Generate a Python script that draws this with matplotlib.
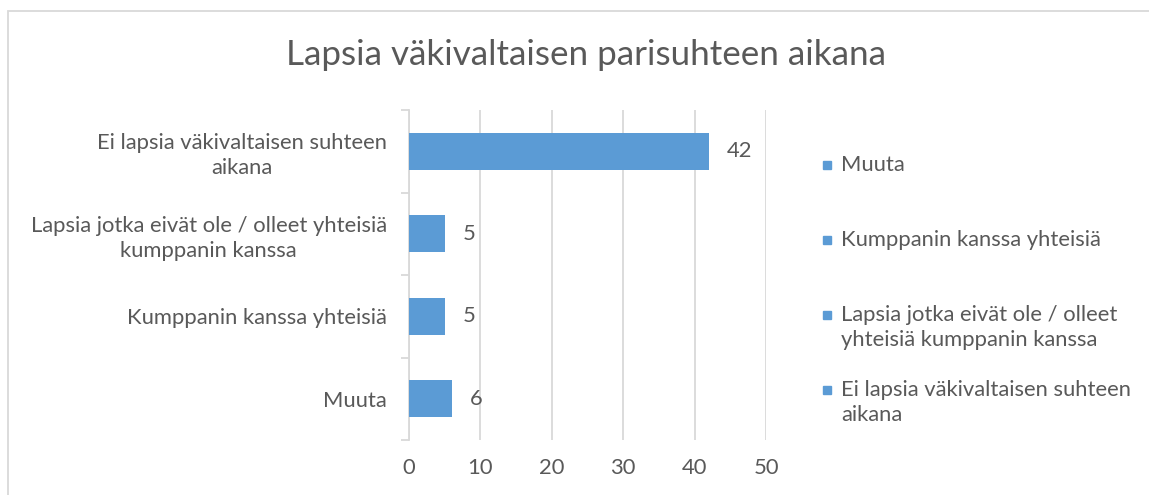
import matplotlib.pyplot as plt
from matplotlib.lines import Line2D
from matplotlib.patches import Rectangle

categories = ["Muuta",
              "Kumppanin kanssa yhteisiä",
              "Lapsia jotka eivät ole / olleet\nyhteisiä kumppanin kanssa",
              "Ei lapsia väkivaltaisen suhteen\naikana"]
values = [6, 5, 5, 42]
ytick_labels = ["Muuta",
                "Kumppanin kanssa yhteisiä",
                "Lapsia jotka eivät ole / olleet yhteisiä\nkumppanin kanssa",
                "Ei lapsia väkivaltaisen suhteen\naikana"]
xticks = [0, 10, 20, 30, 40, 50]

bar_color = "#5B9BD5"
text_color = "#595959"
grid_color = "#D9D9D9"

plt.rcParams['font.family'] = ['Lato', 'DejaVu Sans']

fig = plt.figure(figsize=(11.49, 4.95), dpi=100)
ax = fig.add_axes([409/1149, 1 - 440/495, (766-409)/1149, (440-110)/495])

pos = list(range(len(values)))
bars = ax.barh(pos, values, height=0.45, color=bar_color, zorder=3)
for b, v in zip(bars, values):
    ax.annotate(str(v), (b.get_width(), b.get_y() + b.get_height()/2),
                xytext=(13, 0), textcoords='offset points',
                va='center', ha='left', fontsize=15.8, color=text_color)

ax.set_xlim(0, 50)
ax.set_ylim(-0.5, len(values) - 0.5)
ax.set_xticks(xticks)
ax.set_yticks(pos)
ax.set_yticklabels(ytick_labels, multialignment='center', linespacing=1.3)
ax.set_yticks([p - 0.5 for p in pos] + [len(values) - 0.5], minor=True)
ax.tick_params(axis='y', which='major', length=0, pad=16, labelsize=15.8, labelcolor=text_color)
ax.tick_params(axis='y', which='minor', length=6, color=grid_color, width=1.3)
ax.tick_params(axis='x', length=0, pad=13, labelsize=15.8, labelcolor=text_color)
ax.grid(axis='x', color=grid_color, linewidth=1.3, zorder=0)
for s in ['top', 'right', 'bottom']:
    ax.spines[s].set_visible(False)
ax.spines['left'].set_color(grid_color)
ax.spines['left'].set_linewidth(1.3)

fig.text(0.51, 1 - 55/495, "Lapsia väkivaltaisen parisuhteen aikana",
         ha='center', va='center', fontsize=25.2, color=text_color)

# legend, drawn by hand (top to bottom: reversed order)
leg_y = [165, 240, 315, 390]
for lab, yy in zip(categories, leg_y):
    fig.add_artist(Line2D([827/1149], [1 - yy/495], marker='s', markersize=5.5,
                          color=bar_color, transform=fig.transFigure))
    fig.text(841/1149, 1 - (yy - 10)/495, lab, ha='left', va='top', fontsize=15.8,
             color=text_color, linespacing=1.3)

fig.add_artist(Rectangle((8/1149, -0.1), 1.2, 1.1 - 11/495, fill=False,
                         edgecolor=grid_color, linewidth=1.3, transform=fig.transFigure))

fig.savefig("out.png", dpi=100)
